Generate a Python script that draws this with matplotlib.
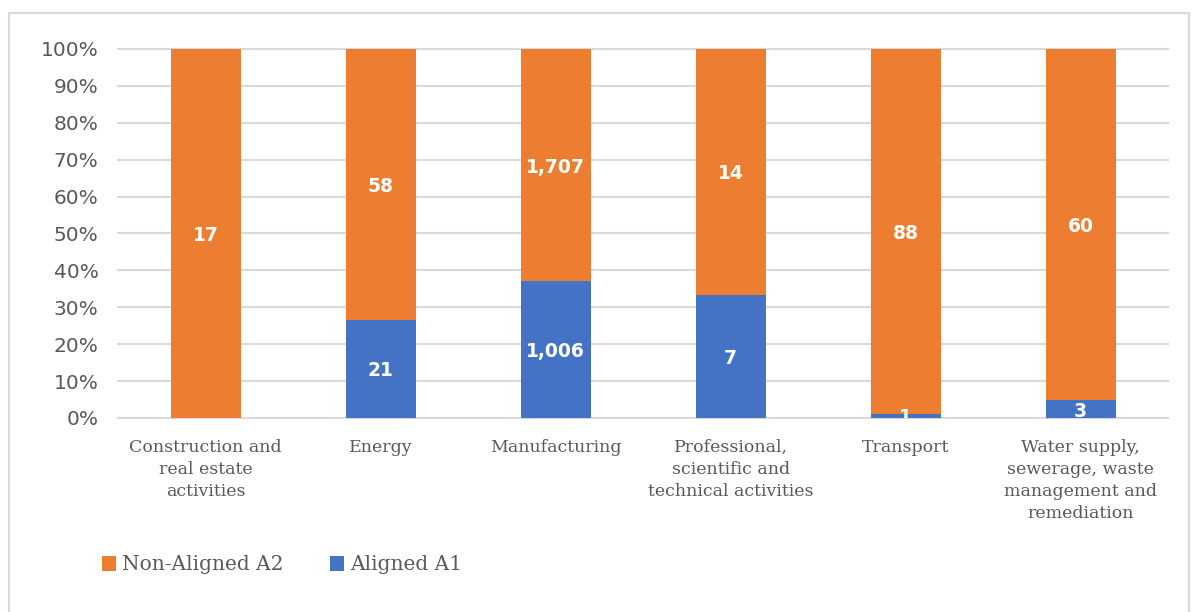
import numpy as np
import matplotlib.pyplot as plt
from matplotlib.patches import Rectangle

categories = ["Construction and\nreal estate\nactivities", "Energy", "Manufacturing",
              "Professional,\nscientific and\ntechnical activities", "Transport",
              "Water supply,\nsewerage, waste\nmanagement and\nremediation"]
aligned_a1 = [0, 21, 1006, 7, 1, 3]
non_aligned_a2 = [17, 58, 1707, 14, 88, 60]

blue = '#4472c4'
orange = '#ed7d31'
grey_text = '#595959'

a1 = np.array(aligned_a1, dtype=float)
a2 = np.array(non_aligned_a2, dtype=float)
total = a1 + a2
p1 = a1 / total
p2 = a2 / total

fig = plt.figure(figsize=(11.92, 6.12), dpi=100)
ax = fig.add_axes([0.099, 0.317, 0.881, 0.603])

# outer chart frame
fig.patches.append(Rectangle((9 / 1192, -0.01), 1180 / 1192, 1 - 13 / 612 + 0.01,
                             transform=fig.transFigure, fill=False,
                             edgecolor='#d9d9d9', linewidth=1.5))

x = np.arange(len(categories))
bw = 0.4
b1 = ax.bar(x, p1, bw, color=blue, label='Aligned A1', zorder=3)
b2 = ax.bar(x, p2, bw, bottom=p1, color=orange, label='Non-Aligned A2', zorder=3)

for i in range(len(categories)):
    if a1[i] > 0:
        ax.text(x[i], p1[i] / 2, f"{int(a1[i]):,}", ha='center', va='center_baseline',
                color='white', fontsize=13.5, fontweight='bold', zorder=4, clip_on=True)
    if a2[i] > 0:
        ax.text(x[i], p1[i] + p2[i] / 2, f"{int(a2[i]):,}", ha='center',
                va='center_baseline', color='white', fontsize=13.5, fontweight='bold',
                zorder=4, clip_on=True)

ax.set_xlim(-0.5, len(categories) - 0.5)
ax.set_ylim(0, 1)
ax.set_yticks(np.arange(0, 1.01, 0.1))
ax.set_yticklabels([f"{int(round(v * 100))}%" for v in np.arange(0, 1.01, 0.1)],
                   fontsize=14.5, color=grey_text)
ax.set_xticks(x)
ax.set_xticklabels(categories, fontsize=12.5, color=grey_text, family='DejaVu Serif',
                   linespacing=1.4)
ax.tick_params(axis='y', length=0, pad=14)
ax.tick_params(axis='x', length=0, pad=15)
ax.yaxis.grid(True, color='#d9d9d9', linewidth=1.5, zorder=0)
for gl in ax.get_ygridlines():
    gl.set_clip_on(False)
ax.set_axisbelow(True)
for s in ax.spines.values():
    s.set_visible(False)

handles = [b2, b1]
leg = fig.legend(handles, ['Non-Aligned A2', 'Aligned A1'], loc='center left',
                 bbox_to_anchor=(84 / 1192, 1 - 565 / 612), ncol=2, frameon=False,
                 prop={'family': 'DejaVu Serif', 'size': 14.5}, handlelength=0.7,
                 handleheight=0.7, handletextpad=0.3, columnspacing=2.3)
for t in leg.get_texts():
    t.set_color(grey_text)

fig.savefig('out.png', dpi=100)
